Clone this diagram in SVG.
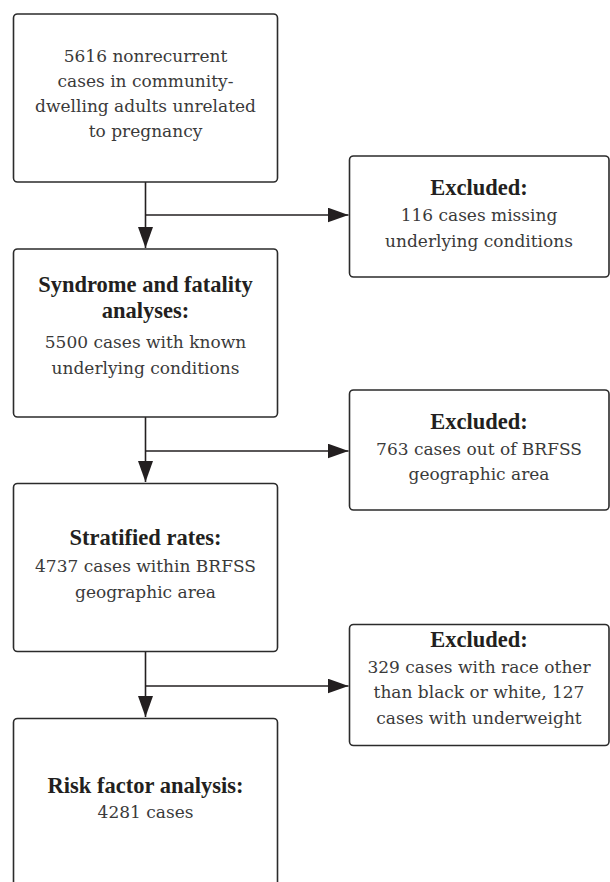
<svg xmlns="http://www.w3.org/2000/svg" width="610" height="882" viewBox="0 0 610 882">
<style>
.box{fill:#fff;stroke:#2b2b2b;stroke-width:1.6}
.t{font-family:'DejaVu Serif','Liberation Serif',serif;font-size:17px;font-weight:400;fill:#3a3a3a;text-anchor:middle}
.b{font-family:'Liberation Serif','DejaVu Serif',serif;font-size:22.5px;font-weight:700;fill:#231f20;text-anchor:middle}
.ln{stroke:#231f20;stroke-width:1.6;fill:none}
</style>
<defs>
<marker id="ah" markerUnits="userSpaceOnUse" markerWidth="22" markerHeight="15" refX="21" refY="7.5" orient="auto">
<path d="M0,0 L21,7.5 L0,15 z" fill="#231f20"/>
</marker>
</defs>
<rect width="610" height="882" fill="#fff"/>
<g id="connectors">
<line class="ln" x1="145.5" y1="182" x2="145.5" y2="248" marker-end="url(#ah)"/>
<line class="ln" x1="145.5" y1="215" x2="348.5" y2="215" marker-end="url(#ah)"/>
<line class="ln" x1="145.5" y1="417" x2="145.5" y2="482" marker-end="url(#ah)"/>
<line class="ln" x1="145.5" y1="451" x2="348.5" y2="451" marker-end="url(#ah)"/>
<line class="ln" x1="145.5" y1="652" x2="145.5" y2="717" marker-end="url(#ah)"/>
<line class="ln" x1="145.5" y1="686" x2="348.5" y2="686" marker-end="url(#ah)"/>
</g>
<g id="n1">
<rect class="box" x="13.5" y="14" width="264" height="168" rx="4"/>
<text class="t" x="145.5" y="62">5616 nonrecurrent</text>
<text class="t" x="145.5" y="87">cases in community-</text>
<text class="t" x="145.5" y="112">dwelling adults unrelated</text>
<text class="t" x="145.5" y="137">to pregnancy</text>
</g>
<g id="e1">
<rect class="box" x="349.5" y="156" width="259.5" height="121" rx="4"/>
<text class="b" x="479" y="195">Excluded:</text>
<text class="t" x="479" y="221">116 cases missing</text>
<text class="t" x="479" y="247">underlying conditions</text>
</g>
<g id="n2">
<rect class="box" x="13.5" y="249" width="264" height="168" rx="4"/>
<text class="b" x="145.5" y="292">Syndrome and fatality</text>
<text class="b" x="145.5" y="318">analyses:</text>
<text class="t" x="145.5" y="348">5500 cases with known</text>
<text class="t" x="145.5" y="374">underlying conditions</text>
</g>
<g id="e2">
<rect class="box" x="349.5" y="390" width="259.5" height="120" rx="4"/>
<text class="b" x="479" y="429">Excluded:</text>
<text class="t" x="479" y="455">763 cases out of BRFSS</text>
<text class="t" x="479" y="480">geographic area</text>
</g>
<g id="n3">
<rect class="box" x="13.5" y="483.5" width="264" height="168" rx="4"/>
<text class="b" x="145.5" y="545">Stratified rates:</text>
<text class="t" x="145.5" y="572">4737 cases within BRFSS</text>
<text class="t" x="145.5" y="598">geographic area</text>
</g>
<g id="e3">
<rect class="box" x="349.5" y="624.5" width="259.5" height="121" rx="4"/>
<text class="b" x="479" y="647">Excluded:</text>
<text class="t" x="479" y="673">329 cases with race other</text>
<text class="t" x="479" y="698">than black or white, 127</text>
<text class="t" x="479" y="724">cases with underweight</text>
</g>
<g id="n4">
<rect class="box" x="13.5" y="718.5" width="264" height="200" rx="4"/>
<text class="b" x="145.5" y="793">Risk factor analysis:</text>
<text class="t" x="145.5" y="818">4281 cases</text>
</g>
</svg>
